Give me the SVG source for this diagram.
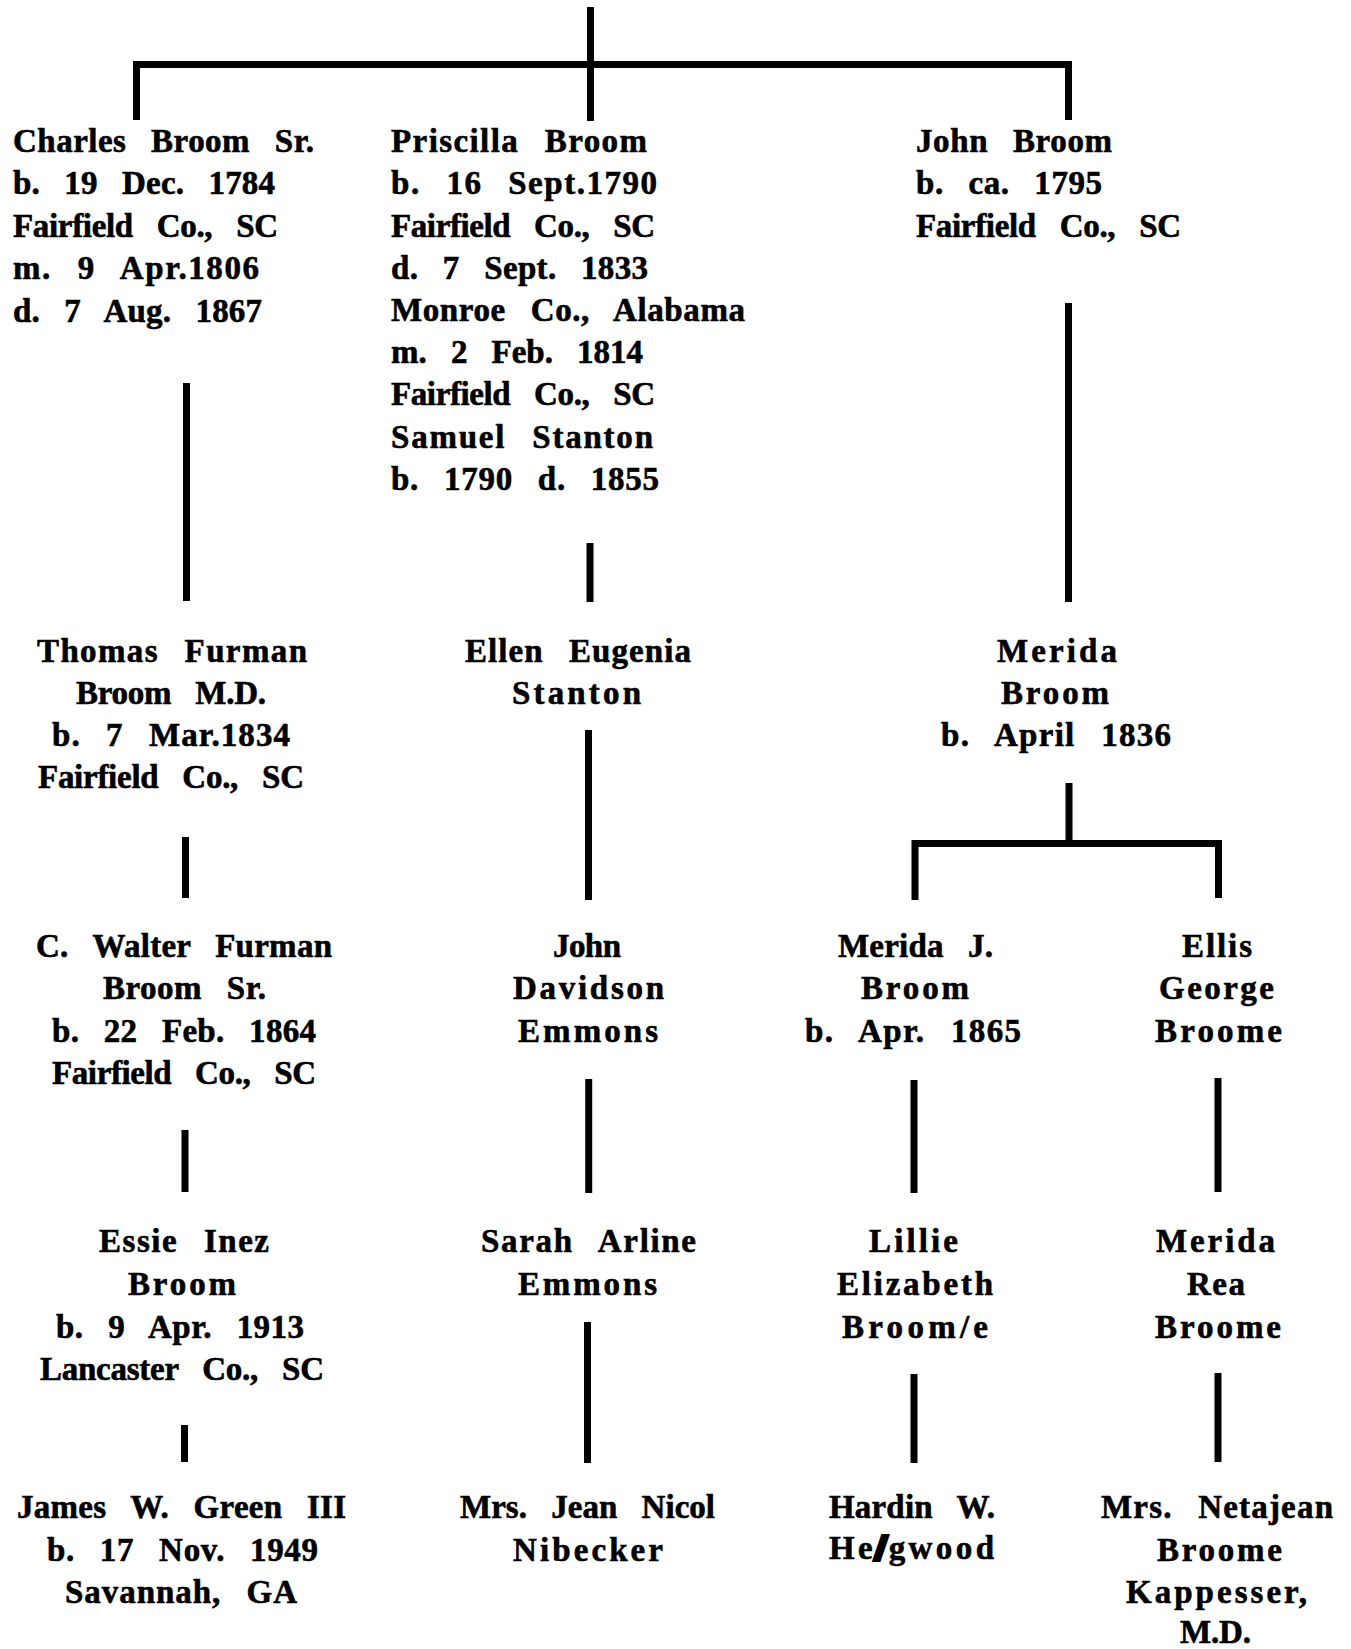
<svg xmlns="http://www.w3.org/2000/svg" width="1351" height="1649" viewBox="0 0 1351 1649">
<style>
  .bg { fill: #ffffff; }
  .ln { stroke: #000; stroke-width: 7; fill: none; stroke-linecap: butt; stroke-linejoin: miter; }
  text { font-family: "Liberation Serif", "Times New Roman", serif; font-weight: bold; font-size: 33px; fill: #000; stroke: #000; stroke-width: 0.6px; word-spacing: 16px; }
  .smudge { stroke: #000; stroke-width: 6px; }
</style>
<rect class="bg" x="0" y="0" width="1351" height="1649"/>

<g id="connectors">
  <path class="ln" d="M590.5 7 V121"/>
  <path class="ln" d="M136.5 120 V64.5 H1068.5 V120"/>
  <path class="ln" d="M186.5 383 V601"/>
  <path class="ln" d="M590 543 V602"/>
  <path class="ln" d="M1068.5 303 V602"/>
  <path class="ln" d="M185.5 837 V898"/>
  <path class="ln" d="M588.5 730 V900"/>
  <path class="ln" d="M1069 783 V843.5"/>
  <path class="ln" d="M915 900 V843.5 H1218.5 V898"/>
  <path class="ln" d="M185 1130 V1192"/>
  <path class="ln" d="M588.7 1079 V1193"/>
  <path class="ln" d="M914 1080 V1193"/>
  <path class="ln" d="M1218 1078 V1192"/>
  <path class="ln" d="M184.5 1425 V1462"/>
  <path class="ln" d="M587.5 1322 V1463"/>
  <path class="ln" d="M914 1374 V1463"/>
  <path class="ln" d="M1218 1373 V1462"/>
</g>

<g id="charles-broom-sr">
  <text x="13" y="152" textLength="301" lengthAdjust="spacing">Charles Broom Sr.</text>
  <text x="13" y="194" textLength="262" lengthAdjust="spacing">b. 19 Dec. 1784</text>
  <text x="13" y="237" textLength="265" lengthAdjust="spacing">Fairfield Co., SC</text>
  <text x="13" y="279" textLength="246" lengthAdjust="spacing">m. 9 Apr.1806</text>
  <text x="13" y="322" textLength="249" lengthAdjust="spacing">d. 7 Aug. 1867</text>
</g>

<g id="priscilla-broom">
  <text x="391" y="152" textLength="256" lengthAdjust="spacing">Priscilla Broom</text>
  <text x="391" y="194" textLength="266" lengthAdjust="spacing">b. 16 Sept.1790</text>
  <text x="391" y="237" textLength="264" lengthAdjust="spacing">Fairfield Co., SC</text>
  <text x="391" y="279" textLength="257" lengthAdjust="spacing">d. 7 Sept. 1833</text>
  <text x="391" y="321" textLength="354" lengthAdjust="spacing">Monroe Co., Alabama</text>
  <text x="391" y="363" textLength="252" lengthAdjust="spacing">m. 2 Feb. 1814</text>
  <text x="391" y="405" textLength="264" lengthAdjust="spacing">Fairfield Co., SC</text>
  <text x="391" y="448" textLength="262" lengthAdjust="spacing">Samuel Stanton</text>
  <text x="391" y="490" textLength="268" lengthAdjust="spacing">b. 1790 d. 1855</text>
</g>

<g id="john-broom">
  <text x="916" y="152" textLength="196" lengthAdjust="spacing">John Broom</text>
  <text x="916" y="194" textLength="186" lengthAdjust="spacing">b. ca. 1795</text>
  <text x="916" y="237" textLength="265" lengthAdjust="spacing">Fairfield Co., SC</text>
</g>

<g id="thomas-furman-broom">
  <text x="37" y="662" textLength="270" lengthAdjust="spacing">Thomas Furman</text>
  <text x="76" y="704" textLength="190" lengthAdjust="spacing">Broom M.D.</text>
  <text x="52" y="746" textLength="238" lengthAdjust="spacing">b. 7 Mar.1834</text>
  <text x="38" y="788" textLength="266" lengthAdjust="spacing">Fairfield Co., SC</text>
</g>

<g id="ellen-eugenia-stanton">
  <text x="465" y="662" textLength="226" lengthAdjust="spacing">Ellen Eugenia</text>
  <text x="512" y="704" textLength="129" lengthAdjust="spacing">Stanton</text>
</g>

<g id="merida-broom">
  <text x="997" y="662" textLength="120" lengthAdjust="spacing">Merida</text>
  <text x="1001" y="704" textLength="108" lengthAdjust="spacing">Broom</text>
  <text x="941" y="746" textLength="230" lengthAdjust="spacing">b. April 1836</text>
</g>

<g id="c-walter-furman-broom">
  <text x="36" y="957" textLength="296" lengthAdjust="spacing">C. Walter Furman</text>
  <text x="103" y="999" textLength="163" lengthAdjust="spacing">Broom Sr.</text>
  <text x="52" y="1042" textLength="264" lengthAdjust="spacing">b. 22 Feb. 1864</text>
  <text x="52" y="1084" textLength="264" lengthAdjust="spacing">Fairfield Co., SC</text>
</g>

<g id="john-davidson-emmons">
  <text x="553" y="957" textLength="68" lengthAdjust="spacing">John</text>
  <text x="513" y="999" textLength="151" lengthAdjust="spacing">Davidson</text>
  <text x="518" y="1042" textLength="140" lengthAdjust="spacing">Emmons</text>
</g>

<g id="merida-j-broom">
  <text x="838" y="957" textLength="155" lengthAdjust="spacing">Merida J.</text>
  <text x="861" y="999" textLength="108" lengthAdjust="spacing">Broom</text>
  <text x="805" y="1042" textLength="216" lengthAdjust="spacing">b. Apr. 1865</text>
</g>

<g id="ellis-george-broome">
  <text x="1182" y="957" textLength="70" lengthAdjust="spacing">Ellis</text>
  <text x="1159" y="999" textLength="115" lengthAdjust="spacing">George</text>
  <text x="1155" y="1042" textLength="127" lengthAdjust="spacing">Broome</text>
</g>

<g id="essie-inez-broom">
  <text x="99" y="1252" textLength="170" lengthAdjust="spacing">Essie Inez</text>
  <text x="128" y="1295" textLength="108" lengthAdjust="spacing">Broom</text>
  <text x="56" y="1338" textLength="248" lengthAdjust="spacing">b. 9 Apr. 1913</text>
  <text x="40" y="1380" textLength="284" lengthAdjust="spacing">Lancaster Co., SC</text>
</g>

<g id="sarah-arline-emmons">
  <text x="481" y="1252" textLength="215" lengthAdjust="spacing">Sarah Arline</text>
  <text x="518" y="1295" textLength="139" lengthAdjust="spacing">Emmons</text>
</g>

<g id="lillie-elizabeth-broome">
  <text x="869" y="1252" textLength="89" lengthAdjust="spacing">Lillie</text>
  <text x="837" y="1295" textLength="156" lengthAdjust="spacing">Elizabeth</text>
  <text x="842" y="1338" textLength="146" lengthAdjust="spacing">Broom/e</text>
</g>

<g id="merida-rea-broome">
  <text x="1156" y="1252" textLength="119" lengthAdjust="spacing">Merida</text>
  <text x="1187" y="1295" textLength="58" lengthAdjust="spacing">Rea</text>
  <text x="1155" y="1338" textLength="126" lengthAdjust="spacing">Broome</text>
</g>

<g id="james-w-green-iii">
  <text x="17" y="1518" textLength="329" lengthAdjust="spacing">James W. Green III</text>
  <text x="47" y="1561" textLength="271" lengthAdjust="spacing">b. 17 Nov. 1949</text>
  <text x="65" y="1603" textLength="232" lengthAdjust="spacing">Savannah, GA</text>
</g>

<g id="mrs-jean-nicol-nibecker">
  <text x="460" y="1518" textLength="255" lengthAdjust="spacing">Mrs. Jean Nicol</text>
  <text x="513" y="1561" textLength="150" lengthAdjust="spacing">Nibecker</text>
</g>

<g id="hardin-w-hedgwood">
  <text x="829" y="1518" textLength="166" lengthAdjust="spacing">Hardin W.</text>
  <text x="829" y="1559" textLength="165" lengthAdjust="spacing">He<tspan class="smudge">/</tspan>gwood</text>
</g>

<g id="mrs-netajean-broome-kappesser">
  <text x="1101" y="1518" textLength="232" lengthAdjust="spacing">Mrs. Netajean</text>
  <text x="1157" y="1561" textLength="125" lengthAdjust="spacing">Broome</text>
  <text x="1126" y="1603" textLength="181" lengthAdjust="spacing">Kappesser,</text>
  <text x="1180" y="1643" textLength="71" lengthAdjust="spacing">M.D.</text>
</g>
</svg>
